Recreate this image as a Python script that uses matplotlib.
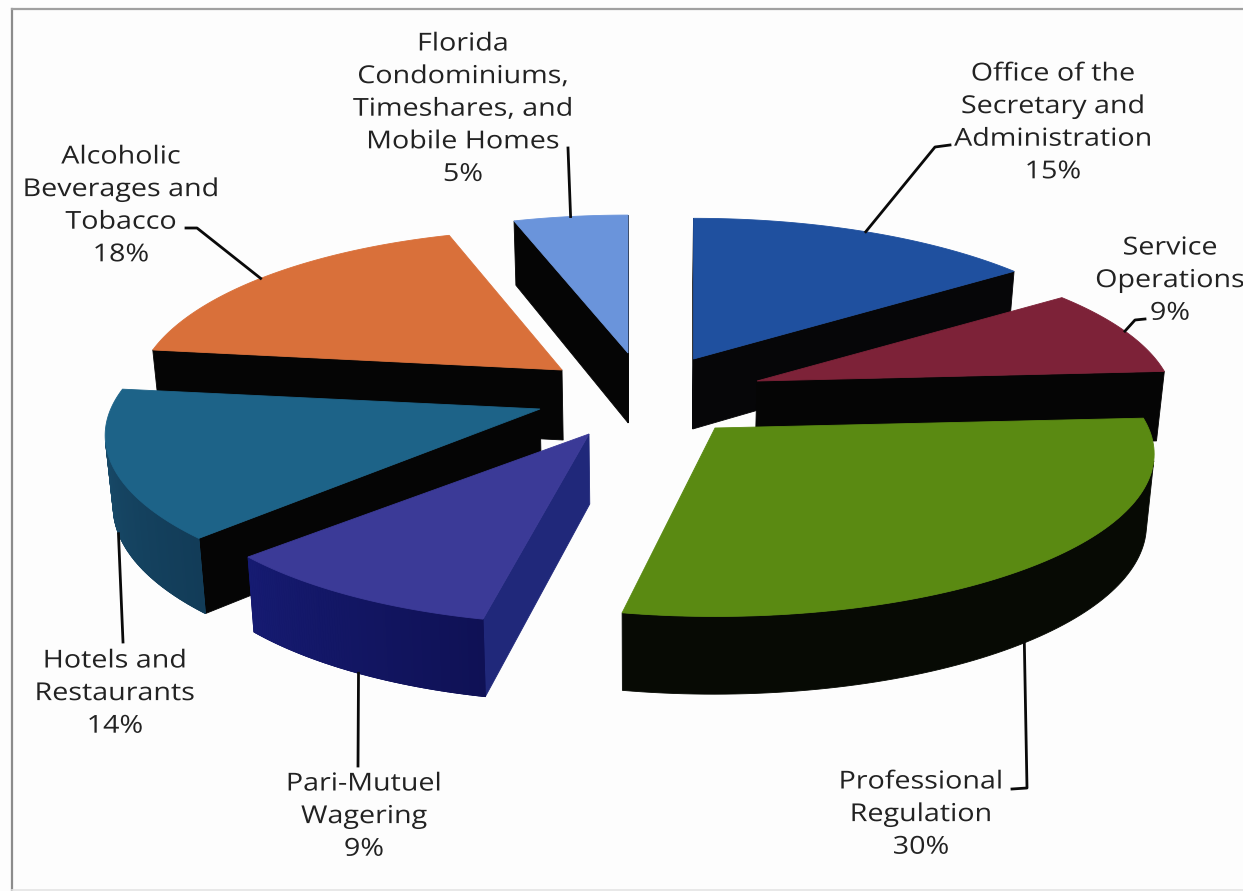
import numpy as np
import matplotlib
matplotlib.use("Agg")
import matplotlib.pyplot as plt
from matplotlib.patches import Polygon
from matplotlib.colors import to_rgb
from matplotlib.patheffects import AbstractPathEffect
from matplotlib.transforms import Affine2D

# ---- data ----
categories = ["Office of the\nSecretary and\nAdministration", "Service\nOperations",
              "Professional\nRegulation", "Pari-Mutuel\nWagering",
              "Hotels and\nRestaurants", "Alcoholic\nBeverages and\nTobacco",
              "Florida\nCondominiums,\nTimeshares, and\nMobile Homes"]
values = [15, 9, 30, 9, 14, 18, 5]

# ---- styles / layout ----
top_colors = ["#1f509f", "#7d2238", "#5a8a12", "#3b3a97", "#1d6388", "#d9703a", "#6a94db"]
rim_colors_a = ["#050505", "#050505", "#070a04", "#161b72", "#1a5070", "#050505", "#050505"]
rim_colors_b = ["#050505", "#050505", "#070a04", "#0f1155", "#123c58", "#050505", "#050505"]
radial_colors = ["#060608", "#050505", "#070a04", "#20287a", "#050505", "#050505", "#050505"]
apex_x = [693.5, 757, 715, 589, 540, 562, 628]
apex_y = [359, 381, 428, 434, 409, 370, 353]
scale = [1.02, 0.97, 1.02, 0.98, 1.01, 0.99, 1.0]
yscale = [1.0, 1.0, 0.97, 1.02, 1.0, 1.03, 1.0]
start_nudge = [0, 0, 0, 2.0, 2.0, 0, 0]
end_nudge = [0, 0, 4.0, 0, 0, 0, 0]
draw_order = [0, 1, 2, 6, 5, 4, 3]
RX, RY, K, DEPTH, TAPER, CX = 425.0, 160.0, 0.16, 70.0, 0.985, 640.0

label_x = [1053, 1170, 921, 364, 115, 121, 463]
label_y = [74, 248, 782, 784, 661, 157, 44]
LINE_PITCH = 32.6
leader_shift = [0, 0, 0, 1.6, 0, 1.5, 0]
leader_paths = [[(935, 147), (950, 145)], [(1135, 320), (1145, 319)],
                [(1027, 788), (1012, 789)], [(358, 766)], [(123, 642)],
                [(197, 228), (186, 228)], [(568, 148)]]

W, H = 1243, 891
fig = plt.figure(figsize=(W / 100, H / 100), dpi=100, facecolor="#fdfdfd")
ax = fig.add_axes([0, 0, 1, 1])
ax.set_xlim(0, W)
ax.set_ylim(H, 0)
ax.axis("off")


class StretchX(AbstractPathEffect):
    """Widen a text line about its own centre, as in the scanned original."""

    def __init__(self, sx):
        super().__init__()
        self.sx = sx

    def draw_path(self, renderer, gc, tpath, affine, rgbFace=None):
        ext = tpath.get_extents()
        xc = 0.5 * (ext.x0 + ext.x1)
        stretch = Affine2D().translate(-xc, 0).scale(self.sx, 1).translate(xc, 0)
        renderer.draw_path(gc, tpath, stretch + affine, rgbFace)


def project(i, ang_deg):
    a = np.radians(ang_deg)
    u, v = np.cos(a), np.sin(a)
    s = 1.0 / (1.0 + K * v)
    r = scale[i]
    return apex_x[i] + r * RX * u * s, apex_y[i] - r * yscale[i] * RY * v * s, s


def lower(x, y, s):
    return CX + (x - CX) * TAPER, y + DEPTH * s ** 0.6


def area(p):
    p = np.asarray(p)
    x, y = p[:, 0], p[:, 1]
    return 0.5 * np.sum(x * np.roll(y, -1) - y * np.roll(x, -1))


def mix(c1, c2, t):
    a, b = np.array(to_rgb(c1)), np.array(to_rgb(c2))
    return tuple(a + (b - a) * t)


def draw_face(pts, color, z):
    ax.add_patch(Polygon(pts, closed=True, facecolor=color, edgecolor=color, lw=0.6, zorder=z))


starts = 90 - 3.6 * np.concatenate([[0], np.cumsum(values)[:-1]])
ends = starts - 3.6 * np.array(values)

for rank, i in enumerate(draw_order):
    z = 2 + rank
    angs = np.linspace(starts[i] + start_nudge[i], ends[i] + end_nudge[i], 90)
    rim = [project(i, a) for a in angs]
    apex = (apex_x[i], apex_y[i])
    top = [apex] + [(x, y) for x, y, _ in rim]
    sign = np.sign(area(top))
    # radial faces
    for P, Q, Ps, Qs in [(apex, rim[0], 1.0, rim[0][2]), (rim[-1], apex, rim[-1][2], 1.0)]:
        face = [P[:2], Q[:2], lower(Q[0], Q[1], Qs), lower(P[0], P[1], Ps)]
        if np.sign(area(face)) != sign:
            draw_face(face, radial_colors[i], z)
    # outer rim: one base shape, then shading bands on top of it
    n = len(rim) - 1
    vis = []
    for k in range(n):
        a, b = rim[k], rim[k + 1]
        face = [a[:2], b[:2], lower(b[0], b[1], b[2]), lower(a[0], a[1], a[2])]
        if np.sign(area(face)) != sign:
            vis.append((k, face))
    if vis:
        upper_edge = [f[0] for _, f in vis] + [vis[-1][1][1]]
        lower_edge = [f[3] for _, f in vis] + [vis[-1][1][2]]
        draw_face(upper_edge + lower_edge[::-1], mix(rim_colors_a[i], rim_colors_b[i], 0.5), z)
        if rim_colors_a[i] != rim_colors_b[i]:
            for k, face in vis:
                draw_face(face, mix(rim_colors_b[i], rim_colors_a[i], k / n), z)
    draw_face(top, top_colors[i], z + 0.5)

# leaders and labels
text_kw = dict(family="Open Sans", fontsize=17.8, color="#222222", ha="center", va="center", zorder=30,
               path_effects=[StretchX(1.16)], clip_on=False)
for i, cat in enumerate(categories):
    mid = (starts[i] + ends[i]) / 2 + leader_shift[i]
    x, y, s = project(i, mid)
    if np.sin(np.radians(mid)) < -0.1:
        x, y = lower(x, y, s)
    pts = [(x, y)] + leader_paths[i]
    ax.plot([p[0] for p in pts], [p[1] for p in pts], color="#0a0a0a", lw=2.0, zorder=20,
            solid_joinstyle="round")
    lines = cat.split("\n") + [f"{values[i]}%"]
    for j, line in enumerate(lines):
        ax.text(label_x[i], label_y[i] + j * LINE_PITCH, line, **text_kw)

# frame: scanned outline, open on the right
ax.plot([12.5, 12.5], [9, 890], color="#8c8c8c", lw=1.6, zorder=1)
ax.plot([12, W], [9, 9], color="#a0a0a0", lw=1.6, zorder=1)
ax.plot([12, W], [889.5, 889.5], color="#e4e4e4", lw=1.2, zorder=1)

fig.savefig("out.png", dpi=100, facecolor=fig.get_facecolor())
